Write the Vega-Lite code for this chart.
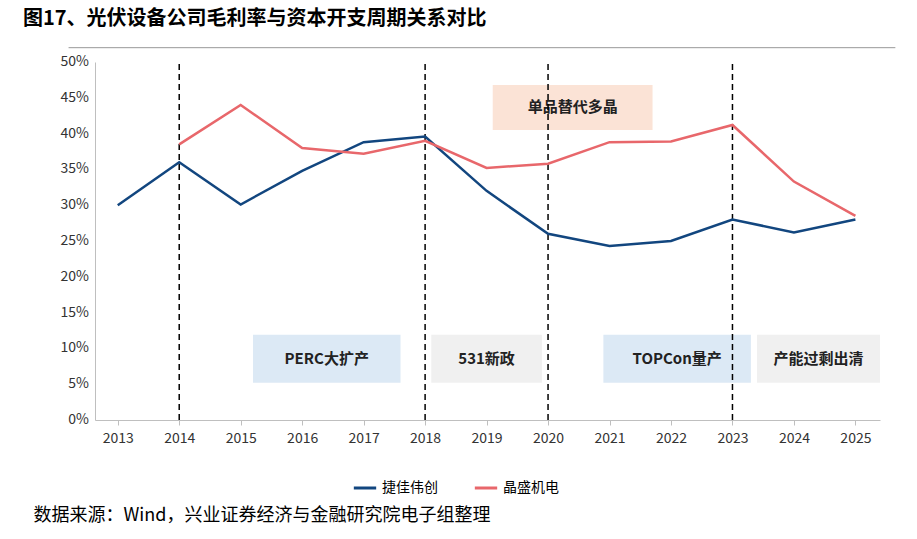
{
  "$schema": "https://vega.github.io/schema/vega-lite/v6.json",
  "width": 785,
  "height": 358,
  "autosize": "none",
  "padding": {"left": 95, "top": 62, "right": 37, "bottom": 119},
  "config": {"font": "Noto Sans CJK SC", "view": {"stroke": null}},
  "title": {"text": "图17、光伏设备公司毛利率与资本开支周期关系对比", "anchor": "start", "frame": "group", "dx": -72, "offset": 18, "fontSize": 20, "fontWeight": "bold", "color": "#000"},
  "datasets": {
    "series": [
      {"year": 2013, "company": "捷佳伟创", "v": 30},
      {"year": 2014, "company": "捷佳伟创", "v": 36},
      {"year": 2015, "company": "捷佳伟创", "v": 30.1},
      {"year": 2016, "company": "捷佳伟创", "v": 34.8},
      {"year": 2017, "company": "捷佳伟创", "v": 38.8},
      {"year": 2018, "company": "捷佳伟创", "v": 39.6},
      {"year": 2019, "company": "捷佳伟创", "v": 32},
      {"year": 2020, "company": "捷佳伟创", "v": 26},
      {"year": 2021, "company": "捷佳伟创", "v": 24.3},
      {"year": 2022, "company": "捷佳伟创", "v": 25},
      {"year": 2023, "company": "捷佳伟创", "v": 28},
      {"year": 2024, "company": "捷佳伟创", "v": 26.2},
      {"year": 2025, "company": "捷佳伟创", "v": 28},
      {"year": 2014, "company": "晶盛机电", "v": 38.5},
      {"year": 2015, "company": "晶盛机电", "v": 44},
      {"year": 2016, "company": "晶盛机电", "v": 38},
      {"year": 2017, "company": "晶盛机电", "v": 37.2},
      {"year": 2018, "company": "晶盛机电", "v": 39},
      {"year": 2019, "company": "晶盛机电", "v": 35.2},
      {"year": 2020, "company": "晶盛机电", "v": 35.8},
      {"year": 2021, "company": "晶盛机电", "v": 38.8},
      {"year": 2022, "company": "晶盛机电", "v": 38.9},
      {"year": 2023, "company": "晶盛机电", "v": 41.2},
      {"year": 2024, "company": "晶盛机电", "v": 33.3},
      {"year": 2025, "company": "晶盛机电", "v": 28.5}
    ],
    "boxes": [
      {"label": "单品替代多晶", "x1": 2019.1, "x2": 2021.7, "y1": 40.5, "y2": 46.8, "fill": "#fbe3d6"},
      {"label": "PERC大扩产", "x1": 2015.2, "x2": 2017.6, "y1": 5.2, "y2": 11.9, "fill": "#dce9f5"},
      {"label": "531新政", "x1": 2018.1, "x2": 2019.9, "y1": 5.2, "y2": 11.9, "fill": "#f0f0f0"},
      {"label": "TOPCon量产", "x1": 2020.9, "x2": 2023.3, "y1": 5.2, "y2": 11.9, "fill": "#dce9f5"},
      {"label": "产能过剩出清", "x1": 2023.4, "x2": 2025.4, "y1": 5.2, "y2": 11.9, "fill": "#f0f0f0"}
    ],
    "yticks": [
      {"t": 0, "lab": "0%"}, {"t": 5, "lab": "5%"}, {"t": 10, "lab": "10%"}, {"t": 15, "lab": "15%"},
      {"t": 20, "lab": "20%"}, {"t": 25, "lab": "25%"}, {"t": 30, "lab": "30%"}, {"t": 35, "lab": "35%"},
      {"t": 40, "lab": "40%"}, {"t": 45, "lab": "45%"}, {"t": 50, "lab": "50%"}
    ],
    "cuts": [{"year": 2014}, {"year": 2018}, {"year": 2020}, {"year": 2023}]
  },
  "layer": [
    {
      "data": {"name": "boxes"},
      "mark": {"type": "rect"},
      "encoding": {
        "x": {"field": "x1", "type": "quantitative", "scale": {"domain": [2012.63, 2025.4], "nice": false, "zero": false},
          "axis": {"values": [2013,2014,2015,2016,2017,2018,2019,2020,2021,2022,2023,2024,2025], "format": "d", "grid": false, "domainColor": "#bfbfbf", "tickColor": "#bfbfbf", "labelFontSize": 14, "labelColor": "#333", "labelPadding": 6,
            "title": "数据来源：Wind，兴业证券经济与金融研究院电子组整理", "titleAnchor": "start", "titleAlign": "left", "titleX": -62, "titleY": 95, "titleBaseline": "middle", "titleFontSize": 18, "titleFontWeight": "normal", "titleColor": "#000"}},
        "x2": {"field": "x2"},
        "y": {"field": "y1", "type": "quantitative", "scale": {"domain": [0, 50], "nice": false},
          "axis": {"labels": false, "grid": false, "ticks": false, "domainColor": "#bfbfbf", "title": null}},
        "y2": {"field": "y2"},
        "color": {"field": "fill", "type": "nominal", "scale": null}
      }
    },
    {
      "data": {"name": "yticks"},
      "mark": {"type": "text", "align": "right", "baseline": "middle", "dx": -6, "fontSize": 14, "color": "#333", "clip": false},
      "encoding": {
        "x": {"datum": 2012.63},
        "y": {"field": "t", "type": "quantitative"},
        "text": {"field": "lab"}
      }
    },
    {
      "data": {"name": "boxes"},
      "transform": [{"calculate": "(datum.x1 + datum.x2) / 2", "as": "cx"}, {"calculate": "(datum.y1 + datum.y2) / 2", "as": "cy"}],
      "mark": {"type": "text", "fontSize": 15, "fontWeight": "bold", "color": "#222"},
      "encoding": {
        "x": {"field": "cx", "type": "quantitative"},
        "y": {"field": "cy", "type": "quantitative"},
        "text": {"field": "label"}
      }
    },
    {
      "data": {"name": "cuts"},
      "mark": {"type": "rule", "strokeDash": [6, 4], "strokeWidth": 1.5, "color": "#000"},
      "encoding": {"x": {"field": "year", "type": "quantitative"}, "y": {"datum": 0}, "y2": {"datum": 50}}
    },
    {
      "data": {"values": [{"a": 2012.2, "b": 2025.65}]},
      "mark": {"type": "rule", "color": "#999", "strokeWidth": 1, "clip": false},
      "encoding": {"x": {"field": "a", "type": "quantitative"}, "x2": {"field": "b"}, "y": {"datum": 52}}
    },
    {
      "data": {"name": "series"},
      "mark": {"type": "line", "strokeWidth": 2.5},
      "encoding": {
        "x": {"field": "year", "type": "quantitative"},
        "y": {"field": "v", "type": "quantitative"},
        "color": {"field": "company", "type": "nominal",
          "scale": {"domain": ["捷佳伟创", "晶盛机电"], "range": ["#12467f", "#e8676b"]},
          "legend": {"title": null, "orient": "none", "legendX": 257, "legendY": 413, "direction": "horizontal", "symbolType": "stroke", "symbolStrokeWidth": 3, "symbolSize": 500, "labelFontSize": 14, "labelColor": "#000", "columnPadding": 30}}
      }
    }
  ]
}
